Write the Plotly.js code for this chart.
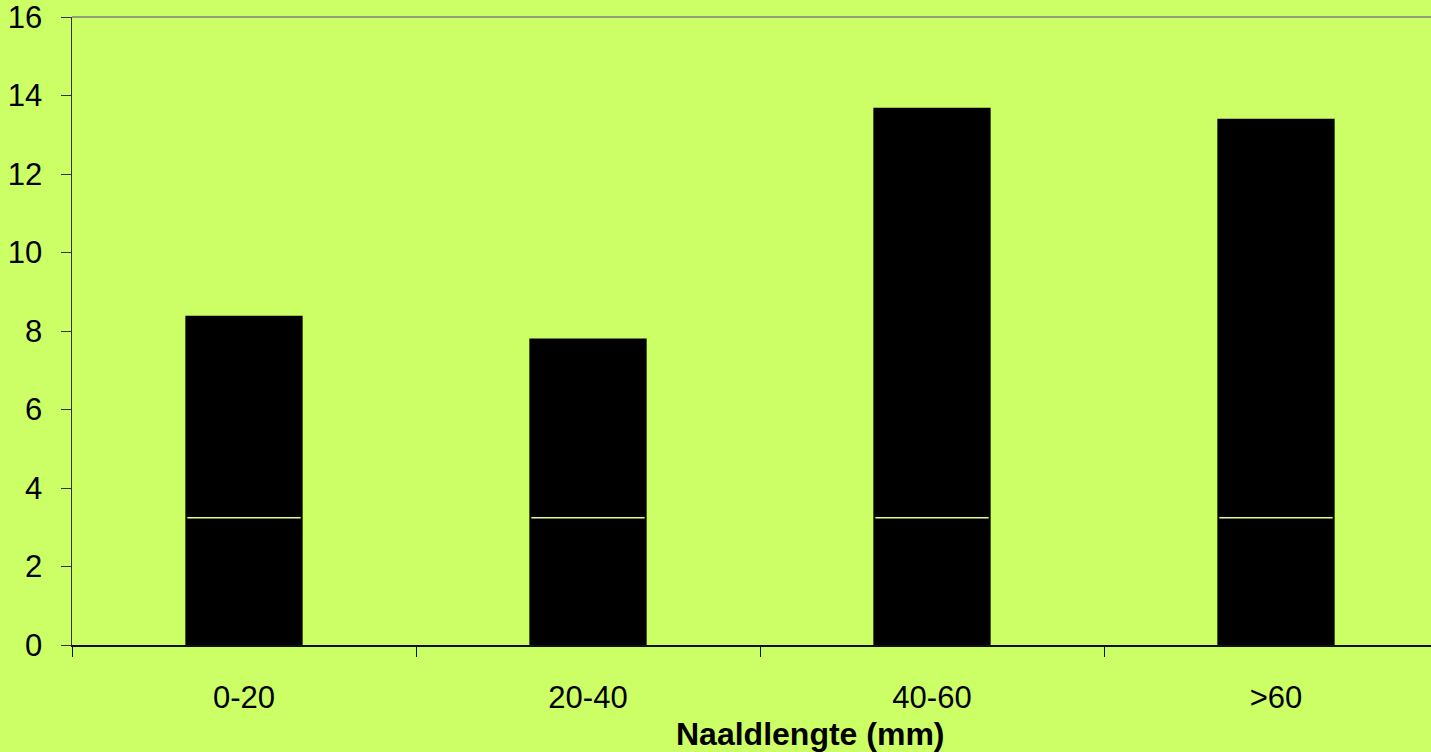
<!DOCTYPE html>
<html>
<head>
<meta charset="utf-8">
<script src="https://cdn.plot.ly/plotly-3.0.1.min.js"></script>
<style>
html, body { margin: 0; padding: 0; overflow: hidden; background: #CCFF66; }
#chart { width: 1460px; height: 752px; }
</style>
</head>
<body>
<div id="chart"></div>
<script>
// Data
var categories = ["0-20", "20-40", "40-60", ">60"];
var barValues = [8.39, 7.81, 13.69, 13.41];
var lineLevel = [3.24, 3.24, 3.24, 3.24];
var yTickValues = [0, 2, 4, 6, 8, 10, 12, 14, 16];
var xTitle = "Naaldlengte (mm)";

var bg = "#CCFF66";
var fontFam = "'Liberation Sans', Arial, sans-serif";

var traces = [
  {
    type: "bar",
    x: categories,
    y: barValues,
    marker: { color: "#000000", line: { width: 0 } },
    hoverinfo: "x+y"
  },
  {
    type: "scatter",
    mode: "markers",
    x: categories,
    y: lineLevel,
    marker: {
      symbol: "line-ew",
      size: 81,
      color: "#DDFF8A",
      line: { color: "#DDFF8A", width: 1.5 }
    },
    hoverinfo: "skip"
  }
];

var layout = {
  width: 1460,
  height: 752,
  margin: { l: 72, r: 12, t: 17, b: 107, pad: 0 },
  paper_bgcolor: bg,
  plot_bgcolor: bg,
  showlegend: false,
  bargap: 0.659,
  font: { family: fontFam, color: "#000000", size: 31 },
  xaxis: {
    type: "category",
    range: [-0.5, 3.5],
    showgrid: false,
    zeroline: false,
    showline: true,
    linecolor: "#111111",
    linewidth: 1.5,
    ticks: "outside",
    tickson: "boundaries",
    ticklen: 10,
    tickcolor: "#111111",
    tickwidth: 1,
    tickfont: { family: fontFam, size: 31, color: "#000000" },
    ticklabelstandoff: 24
  },
  yaxis: {
    range: [0, 16],
    tickvals: yTickValues,
    ticktext: yTickValues.map(String),
    showgrid: false,
    zeroline: false,
    showline: true,
    linecolor: "#333333",
    linewidth: 1.5,
    ticks: "outside",
    ticklen: 10,
    tickcolor: "#333333",
    tickwidth: 1,
    tickfont: { family: fontFam, size: 31, color: "#000000" },
    ticklabelstandoff: 12,
    ticklabeloverflow: "allow"
  },
  shapes: [
    {
      type: "line", xref: "paper", yref: "paper",
      x0: 0, x1: 1, y0: 1, y1: 1,
      line: { color: "#808080", width: 1.5 }
    }
  ],
  annotations: [
    {
      text: "<b>" + xTitle + "</b>",
      xref: "paper", yref: "paper",
      x: 0.536, y: -0.142,
      xanchor: "center", yanchor: "middle",
      showarrow: false,
      font: { family: fontFam, size: 32, color: "#000000" }
    }
  ]
};

Plotly.newPlot("chart", traces, layout, { displayModeBar: false, staticPlot: true });
</script>
</body>
</html>
